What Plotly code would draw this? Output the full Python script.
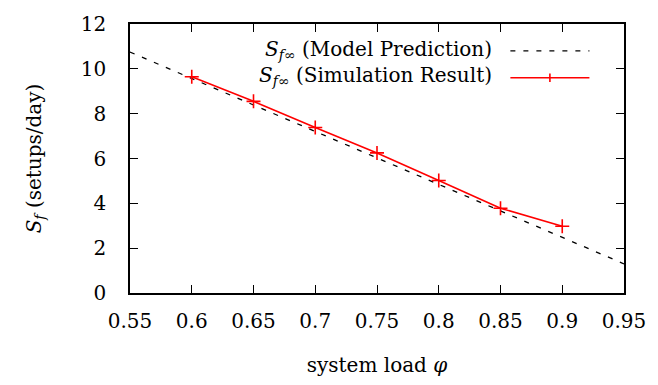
import plotly.graph_objects as go

# Data
model_x = [0.55, 0.95]
model_y = [10.75, 1.3]
sim_x = [0.6, 0.65, 0.7, 0.75, 0.8, 0.85, 0.9]
sim_y = [9.65, 8.55, 7.38, 6.25, 5.02, 3.78, 2.98]
x_ticks = [0.55, 0.6, 0.65, 0.7, 0.75, 0.8, 0.85, 0.9, 0.95]
x_tick_labels = ["0.55", "0.6", "0.65", "0.7", "0.75", "0.8", "0.85", "0.9", "0.95"]
y_ticks = [0, 2, 4, 6, 8, 10, 12]

FONT = "DejaVu Serif, Liberation Serif, serif"
FS = 20

fig = go.Figure()
fig.add_trace(go.Scatter(x=model_x, y=model_y, mode="lines",
                         line=dict(color="black", width=1.3, dash="5px,8px"),
                         showlegend=False))
fig.add_trace(go.Scatter(x=sim_x, y=sim_y, mode="lines+markers",
                         line=dict(color="#ff0000", width=1.6),
                         marker=dict(symbol="cross-thin", size=10,
                                     line=dict(color="#ff0000", width=1.6)),
                         showlegend=False))

axis_common = dict(showline=True, linecolor="black", linewidth=1.5, mirror="allticks",
                   ticks="inside", ticklen=8, tickwidth=1.3, tickcolor="black",
                   showgrid=False, zeroline=False,
                   tickfont=dict(family=FONT, size=FS, color="black"))

fig.update_xaxes(range=[0.55, 0.95], tickvals=x_ticks, ticktext=x_tick_labels,
                 ticklabelstandoff=9,
                 title=dict(text="system load <i>φ</i>", font=dict(family=FONT, size=FS, color="black"),
                            standoff=26),
                 **axis_common)
fig.update_yaxes(range=[0, 12], tickvals=y_ticks, ticklabelstandoff=18,
                 title=dict(text="<i>S<sub>f</sub></i> (setups/day)", font=dict(family=FONT, size=FS, color="black"),
                            standoff=34),
                 **axis_common)

# Legend (text on left, sample on right, gnuplot-style)
legend_items = ["<i>S</i><sub><i>f</i>∞</sub> (Model Prediction)",
                "<i>S</i><sub><i>f</i>∞</sub> (Simulation Result)"]
legend_y = [0.905, 0.805]
for txt, yy in zip(legend_items, legend_y):
    fig.add_annotation(xref="paper", yref="paper", x=0.737, y=yy, text=txt, showarrow=False,
                       xanchor="right", yanchor="middle",
                       font=dict(family=FONT, size=FS, color="black"))
fig.add_shape(type="line", xref="paper", yref="paper", x0=0.77, x1=0.93,
              y0=legend_y[0] - 0.005, y1=legend_y[0] - 0.005,
              line=dict(color="black", width=1.3, dash="5px,8px"))
fig.add_shape(type="line", xref="paper", yref="paper", x0=0.77, x1=0.93,
              y0=legend_y[1] - 0.005, y1=legend_y[1] - 0.005,
              line=dict(color="#ff0000", width=1.6))
fig.add_shape(type="line", xref="paper", yref="paper", x0=0.85, x1=0.85,
              y0=legend_y[1] - 0.005 - 0.016, y1=legend_y[1] - 0.005 + 0.016,
              line=dict(color="#ff0000", width=1.6))

fig.update_layout(width=658, height=385, margin=dict(l=130, r=30, t=16, b=91),
                  plot_bgcolor="white", paper_bgcolor="white",
                  font=dict(family=FONT, size=FS, color="black"))

fig.write_html("out.html")
